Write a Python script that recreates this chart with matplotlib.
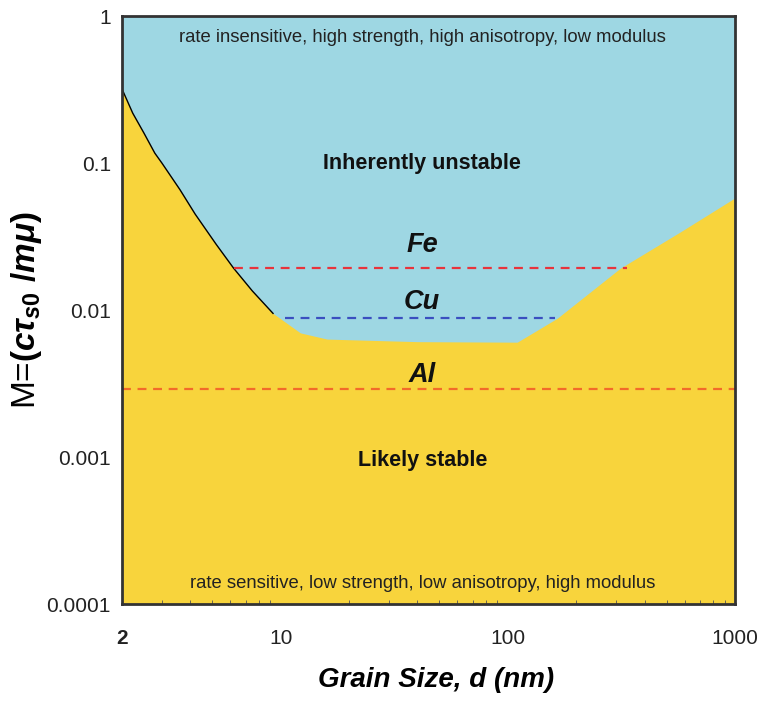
import matplotlib.pyplot as plt
import numpy as np

plt.rcParams['font.family'] = ['Liberation Sans', 'DejaVu Sans']
plt.rcParams['mathtext.fontset'] = 'custom'
plt.rcParams['mathtext.it'] = 'Liberation Sans:italic:bold'
plt.rcParams['mathtext.rm'] = 'Liberation Sans:bold'
plt.rcParams['mathtext.bf'] = 'Liberation Sans:bold'

# stability boundary (grain size nm, M)
bound_d = [2, 2.23, 2.5, 2.79, 3.0, 3.6, 4.2, 5.2, 6.2, 7.5, 9.25, 12.2, 16, 40, 110, 165, 313, 574, 1000]
bound_M = [0.32, 0.219, 0.16, 0.117, 0.1, 0.066, 0.045, 0.028, 0.0193, 0.0135, 0.0095, 0.0070, 0.00635, 0.0061, 0.00605, 0.0088, 0.0193, 0.034, 0.058]

# material lines
mat_names = ['Fe', 'Cu', 'Al']
mat_M = [0.0193, 0.0088, 0.0029]
mat_d0 = [6.2, 10.4, 2]
mat_d1 = [336, 161, 1000]
mat_label_M = [0.0277, 0.0113, 0.0036]
mat_colors = ['#e8343c', '#3a4fc0', '#f26a2a']

xticks = [2, 10, 100, 1000]
yticks = [0.0001, 0.001, 0.01, 0.1, 1]
ytick_labels = ['0.0001', '0.001', '0.01', '0.1', '1']

blue = '#9ed7e3'
gold = '#f8d43c'

fig = plt.figure(figsize=(7.6, 7.04), dpi=100)
ax = fig.add_axes([0.1605, 0.142, 0.8065, 0.835])
ax.set_xscale('log')
ax.set_yscale('log')
ax.set_xlim(2, 1000)
ax.set_ylim(0.0001, 1)
ax.set_facecolor(blue)

ax.fill_between(bound_d, bound_M, 1e-5, color=gold, lw=0)
# thin dark edge on the steep left part
ax.plot(bound_d[:11], bound_M[:11], color='black', lw=1.0)

for name, m, d0, d1, lm, c in zip(mat_names, mat_M, mat_d0, mat_d1, mat_label_M, mat_colors):
    ax.plot([d0, d1], [m, m], ls=(0, (4, 3)), color=c, lw=1.6)
    ax.text(42, lm, name, ha='center', va='center', fontsize=19.5,
            fontweight='bold', fontstyle='italic', color='#111111')

ax.text(42, 0.1, 'Inherently unstable', ha='center', va='center',
        fontsize=15.5, fontweight='bold', color='#111111')
ax.text(42, 0.00095, 'Likely stable', ha='center', va='center',
        fontsize=15.5, fontweight='bold', color='#111111')
ax.text(42, 0.72, 'rate insensitive, high strength, high anisotropy, low modulus',
        ha='center', va='center', fontsize=13.3, color='#222222')
ax.text(42, 0.000138, 'rate sensitive, low strength, low anisotropy, high modulus',
        ha='center', va='center', fontsize=13.3, color='#222222')

for s in ax.spines.values():
    s.set_linewidth(2)
    s.set_color('#333333')

ax.set_xticks(xticks)
ax.set_xticklabels([str(t) for t in xticks])
ax.set_yticks(yticks)
ax.set_yticklabels(ytick_labels)
ax.tick_params(which='major', length=0, labelsize=15, colors='#222222')
ax.tick_params(axis='x', which='major', pad=18)
ax.tick_params(axis='y', which='major', pad=8)
ax.tick_params(axis='x', which='minor', direction='in', length=3, color='#555555')
ax.tick_params(axis='y', which='minor', length=0)
ax.get_xticklabels()[0].set_fontweight('bold')

ax.set_xlabel('Grain Size, d (nm)', fontsize=20, fontweight='bold',
              fontstyle='italic', labelpad=14)
ax.xaxis.label.set_x(0.513)
ax.set_ylabel(r'M=$(c\tau_{s0}\ /m\mu)$', fontsize=24, labelpad=2)

fig.savefig('out.png', dpi=100)
